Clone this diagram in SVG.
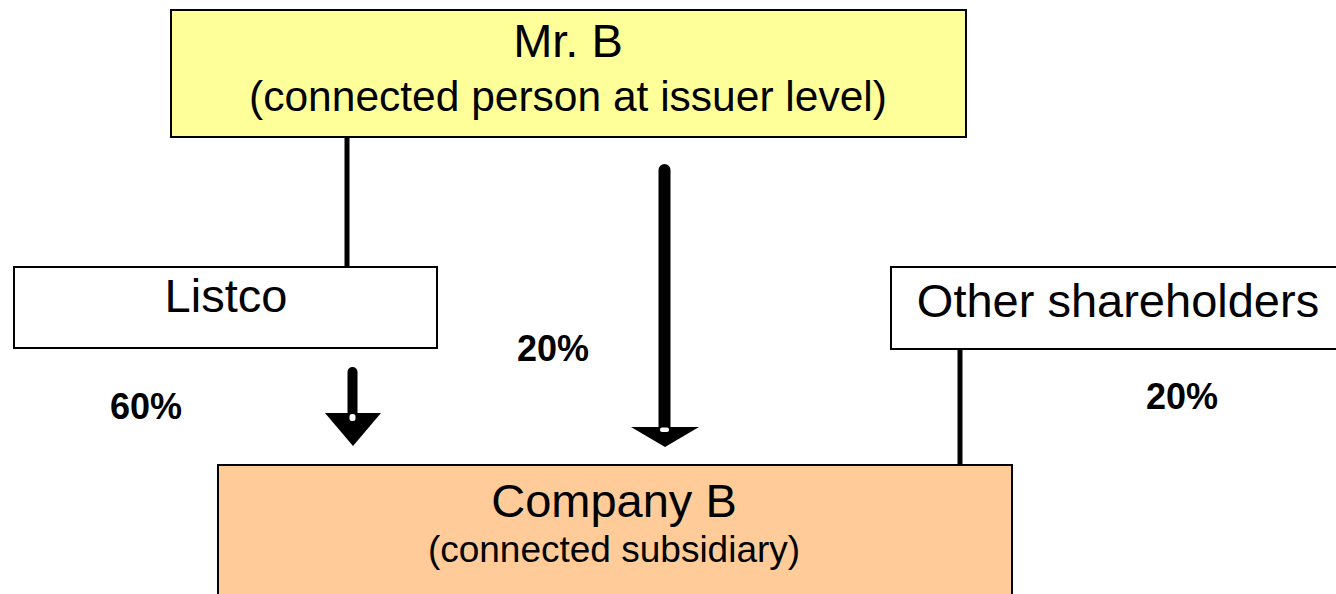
<svg xmlns="http://www.w3.org/2000/svg" width="1336" height="594" viewBox="0 0 1336 594">
  <style>
    .box { stroke: #000; stroke-width: 2; }
    .title { font-family: "Liberation Sans", Arial, sans-serif; font-size: 47px; fill: #000; text-anchor: middle; }
    .sub { font-family: "Liberation Sans", Arial, sans-serif; fill: #000; text-anchor: middle; }
    .pct { font-family: "Liberation Sans", Arial, sans-serif; font-size: 36px; font-weight: bold; fill: #000; }
    .link { stroke: #000; stroke-width: 5; fill: none; }
    .shaft { stroke: #000; stroke-linecap: round; fill: none; }
  </style>
  <rect width="1336" height="594" fill="#fff"/>

  <!-- ownership lines and arrows -->
  <g id="connectors">
    <line class="link" x1="347" y1="137" x2="347" y2="267"/>
    <line class="link" x1="960" y1="349" x2="960" y2="465"/>
    <!-- Listco -> Company B -->
    <line class="shaft" x1="352.5" y1="372" x2="352.5" y2="418" stroke-width="10"/>
    <polygon points="325,413 381,413 353,446" fill="#000"/>
    <rect x="349.5" y="414" width="6" height="7" rx="2.5" fill="#fff"/>
    <!-- Mr. B -> Company B -->
    <line class="shaft" x1="664.5" y1="170" x2="664.5" y2="430" stroke-width="12"/>
    <polygon points="631,427 699,427 665,447" fill="#000"/>
    <rect x="660" y="427.5" width="9" height="4.5" rx="2" fill="#fff"/>
  </g>

  <g id="labels">
    <text class="pct" x="110" y="419">60%</text>
    <text class="pct" x="517" y="361">20%</text>
    <text class="pct" x="1146" y="409">20%</text>
  </g>

  <g id="mr-b">
    <rect class="box" x="171" y="10" width="795" height="127" fill="#FFFF99"/>
    <text class="title" x="568" y="57">Mr. B</text>
    <text class="sub" x="568" y="111" font-size="42.5">(connected person at issuer level)</text>
  </g>

  <g id="listco">
    <rect class="box" x="14" y="267" width="423" height="81" fill="#fff"/>
    <text class="title" x="226" y="312">Listco</text>
  </g>

  <g id="other-shareholders">
    <rect class="box" x="891" y="267" width="460" height="82" fill="#fff"/>
    <text class="title" x="1118" y="317" font-size="47.7">Other shareholders</text>
  </g>

  <g id="company-b">
    <rect class="box" x="218" y="465" width="794" height="150" fill="#FFCC99"/>
    <text class="title" x="614" y="517">Company B</text>
    <text class="sub" x="614" y="562" font-size="37">(connected subsidiary)</text>
  </g>
</svg>
